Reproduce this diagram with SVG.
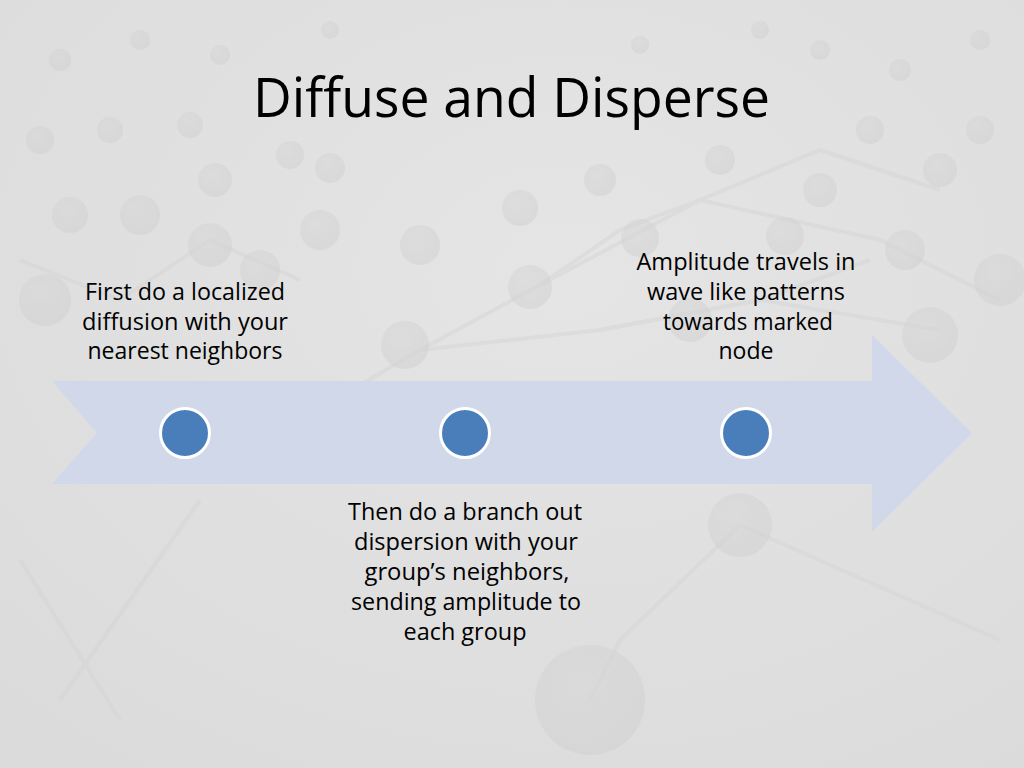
<svg xmlns="http://www.w3.org/2000/svg" width="1024" height="768" viewBox="0 0 1024 768">
  <defs>
    <radialGradient id="bgGrad" cx="0.55" cy="0.35" r="0.8">
      <stop offset="0" stop-color="#E5E5E5"/>
      <stop offset="1" stop-color="#DBDBDB"/>
    </radialGradient>
    <radialGradient id="sph" cx="0.4" cy="0.35" r="0.7">
      <stop offset="0" stop-color="#D8D8D8"/>
      <stop offset="1" stop-color="#D0D0D0"/>
    </radialGradient>
  </defs>
  <style>
    .title { font-family: "Open Sans", "Liberation Sans", sans-serif; font-size: 55px; fill: #000000; }
    .label { font-family: "Open Sans", "Liberation Sans", sans-serif; font-size: 23px; fill: #000000; text-anchor: middle; }
    .bgline { stroke: #D4D4D4; stroke-width: 4; fill: none; opacity: 0.45; }
    .bgsph { fill: url(#sph); opacity: 0.5; }
    .dot { fill: #4A7EBB; stroke: #FFFFFF; stroke-width: 3; }
    .band { fill: #D1D8EA; }
  </style>

  <!-- background scene -->
  <g id="background">
    <rect x="0" y="0" width="1024" height="768" fill="url(#bgGrad)"/>
    <g class="bgline">
      <path d="M420 350 L540 285 L700 200 L880 240 L1000 300"/>
      <path d="M300 420 L420 350 L600 330 L760 300 L940 330"/>
      <path d="M540 285 L620 230 L700 200"/>
      <path d="M700 200 L820 150 L940 190"/>
      <path d="M600 330 L760 300 L870 260"/>
      <path d="M20 260 L120 300 L210 240 L300 280"/>
      <path d="M740 525 L620 640 L590 700"/>
      <path d="M740 525 L1000 640"/>
      <path d="M20 560 L120 720"/>
      <path d="M200 500 L60 700"/>
    </g>
    <g class="bgsph">
      <circle cx="590" cy="700" r="55"/>
      <circle cx="740" cy="525" r="32"/>
      <circle cx="405" cy="345" r="24"/>
      <circle cx="530" cy="287" r="22"/>
      <circle cx="420" cy="245" r="20"/>
      <circle cx="640" cy="238" r="19"/>
      <circle cx="520" cy="208" r="18"/>
      <circle cx="785" cy="236" r="19"/>
      <circle cx="905" cy="250" r="20"/>
      <circle cx="930" cy="335" r="28"/>
      <circle cx="1000" cy="280" r="26"/>
      <circle cx="690" cy="320" r="22"/>
      <circle cx="140" cy="215" r="20"/>
      <circle cx="215" cy="180" r="17"/>
      <circle cx="70" cy="215" r="18"/>
      <circle cx="210" cy="245" r="22"/>
      <circle cx="320" cy="230" r="20"/>
      <circle cx="45" cy="300" r="26"/>
      <circle cx="260" cy="270" r="20"/>
      <circle cx="330" cy="168" r="15"/>
      <circle cx="600" cy="180" r="16"/>
      <circle cx="720" cy="160" r="15"/>
      <circle cx="820" cy="190" r="17"/>
      <circle cx="940" cy="170" r="17"/>
      <circle cx="40" cy="140" r="14"/>
      <circle cx="110" cy="130" r="13"/>
      <circle cx="190" cy="125" r="13"/>
      <circle cx="290" cy="155" r="14"/>
      <circle cx="870" cy="130" r="14"/>
      <circle cx="980" cy="130" r="14"/>
      <circle cx="60" cy="60" r="11"/>
      <circle cx="140" cy="40" r="10"/>
      <circle cx="220" cy="55" r="10"/>
      <circle cx="820" cy="50" r="10"/>
      <circle cx="900" cy="70" r="11"/>
      <circle cx="980" cy="40" r="10"/>
      <circle cx="760" cy="30" r="9"/>
      <circle cx="330" cy="30" r="9"/>
      <circle cx="640" cy="45" r="9"/>
    </g>
  </g>

  <!-- title -->
  <text class="title" x="253" y="117" textLength="517" lengthAdjust="spacingAndGlyphs">Diffuse and Disperse</text>

  <!-- timeline arrow -->
  <g id="connectors">
    <path class="band" d="M52 381 L872 381 L872 335 L972 433 L872 532 L872 484 L52 484 L97 433 Z"/>
  </g>

  <!-- node 1 -->
  <g id="node1">
    <circle class="dot" cx="185" cy="433" r="24.5"/>
    <text class="label" x="185" y="300" textLength="200" lengthAdjust="spacingAndGlyphs">First do a localized</text>
    <text class="label" x="185" y="330" textLength="206" lengthAdjust="spacingAndGlyphs">diffusion with your</text>
    <text class="label" x="185" y="359" textLength="195" lengthAdjust="spacingAndGlyphs">nearest neighbors</text>
  </g>

  <!-- node 2 -->
  <g id="node2">
    <circle class="dot" cx="465" cy="433" r="24.5"/>
    <text class="label" x="465" y="520" textLength="234" lengthAdjust="spacingAndGlyphs">Then do a branch out</text>
    <text class="label" x="466" y="550" textLength="224" lengthAdjust="spacingAndGlyphs">dispersion with your</text>
    <text class="label" x="467" y="580" textLength="205" lengthAdjust="spacingAndGlyphs">group’s neighbors,</text>
    <text class="label" x="466" y="610" textLength="230" lengthAdjust="spacingAndGlyphs">sending amplitude to</text>
    <text class="label" x="465" y="640" textLength="123" lengthAdjust="spacingAndGlyphs">each group</text>
  </g>

  <!-- node 3 -->
  <g id="node3">
    <circle class="dot" cx="746" cy="433" r="24.5"/>
    <text class="label" x="746" y="270" textLength="219" lengthAdjust="spacingAndGlyphs">Amplitude travels in</text>
    <text class="label" x="746" y="300" textLength="198" lengthAdjust="spacingAndGlyphs">wave like patterns</text>
    <text class="label" x="748" y="330" textLength="170" lengthAdjust="spacingAndGlyphs">towards marked</text>
    <text class="label" x="746" y="359" textLength="55" lengthAdjust="spacingAndGlyphs">node</text>
  </g>
</svg>
